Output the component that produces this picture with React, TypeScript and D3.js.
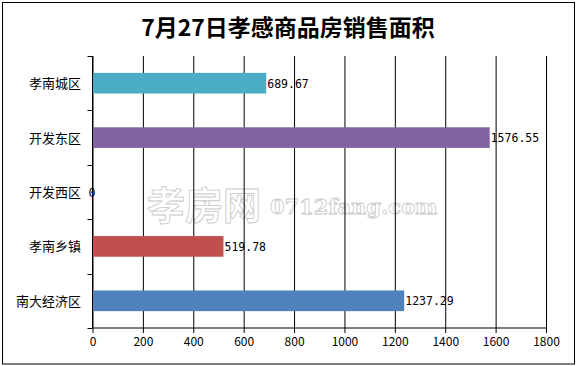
import { useEffect, useRef } from "react";
import * as d3 from "d3";

const categories = ["孝南城区", "开发东区", "开发西区", "孝南乡镇", "南大经济区"];
const values = [689.67, 1576.55, 0, 519.78, 1237.29];
const barColors = ["#4BACC6", "#8064A2", "#8064A2", "#C0504D", "#4F81BD"];
const xTicks = [0, 200, 400, 600, 800, 1000, 1200, 1400, 1600, 1800];
const title = "7月27日孝感商品房销售面积";

const W = 576;
const H = 366;
const FONT = "'Noto Sans CJK SC', 'DejaVu Sans', sans-serif";

const App = () => {
  const svgRef = useRef<SVGSVGElement | null>(null);

  useEffect(() => {
    if (!svgRef.current) return;
    const svg = d3.select(svgRef.current);
    svg.selectAll("*").remove();

    const margin = { top: 56, right: 30, bottom: 38, left: 92.5 };

    // Outer frame
    svg
      .append("rect")
      .attr("x", 2.5)
      .attr("y", 2.5)
      .attr("width", 572)
      .attr("height", 361.5)
      .attr("fill", "#fff")
      .attr("stroke", "#000")
      .attr("stroke-width", 1);

    // Title
    svg
      .append("text")
      .attr("x", 288)
      .attr("y", 36)
      .attr("text-anchor", "middle")
      .style("font-family", "'Noto Sans CJK SC', serif")
      .style("font-weight", "bold")
      .style("font-size", "23px")
      .attr("fill", "#000")
      .text(title);

    const x = d3.scaleLinear().domain([0, 1800]).range([margin.left, 546]);
    const y = d3
      .scaleBand<string>()
      .domain(categories)
      .range([margin.top, H - margin.bottom])
      .paddingInner(0.62)
      .paddingOuter(0.31);

    const plotTop = margin.top;
    const plotBottom = H - margin.bottom;

    // Watermark (outlined text)
    const wm = svg.append("g").attr("fill", "#fff").attr("stroke", "#c8c8c8").attr("stroke-width", 0.8);
    wm.append("text")
      .attr("x", 147)
      .attr("y", 219)
      .style("font-family", FONT)
      .style("font-size", "38px")
      .style("font-weight", "bold")
      .text("孝房网");
    wm.append("text")
      .attr("x", 270)
      .attr("y", 214)
      .style("font-family", "'DejaVu Serif', serif")
      .style("font-size", "21px")
      .style("font-weight", "bold")
      .text("0712fang.com");

    // Vertical gridlines
    svg
      .append("g")
      .attr("transform", `translate(0,${plotBottom})`)
      .call(
        d3
          .axisBottom(x)
          .tickValues(xTicks)
          .tickSize(-(plotBottom - plotTop))
          .tickFormat(() => "")
      )
      .call((g) => g.select(".domain").remove())
      .attr("color", "#000");

    // Bars
    svg
      .append("g")
      .selectAll("rect")
      .data(categories)
      .join("rect")
      .attr("x", x(0))
      .attr("y", (d) => y(d)!)
      .attr("width", (_, i) => x(values[i]) - x(0))
      .attr("height", y.bandwidth())
      .attr("fill", (_, i) => barColors[i]);

    // Value labels
    svg
      .append("g")
      .selectAll("text")
      .data(categories)
      .join("text")
      .attr("x", (_, i) => (values[i] === 0 ? x(0) - 4 : x(values[i]) + 1))
      .attr("y", (d) => y(d)! + y.bandwidth() / 2 + 4.5)
      .style("font-family", "'DejaVu Sans Mono', monospace")
      .style("font-size", "11.5px")
      .attr("fill", "#000")
      .text((_, i) => String(values[i]));

    // Bottom axis
    svg
      .append("g")
      .attr("transform", `translate(0,${plotBottom})`)
      .call(d3.axisBottom(x).tickValues(xTicks).tickSize(5).tickPadding(4).tickFormat(d3.format("d")))
      .attr("color", "#000")
      .call((g) => g.select(".domain").attr("d", `M${x(0)},0H${x(1800)}`))
      .selectAll("text")
      .style("font-family", FONT)
      .style("font-size", "12px")
      .attr("fill", "#000");

    // Left axis
    const left = svg.append("g").attr("color", "#000");
    left
      .append("line")
      .attr("x1", margin.left)
      .attr("x2", margin.left)
      .attr("y1", plotTop)
      .attr("y2", plotBottom)
      .attr("stroke", "#000");
    const step = y.step();
    const boundaries = d3.range(categories.length + 1).map((i) => plotTop + i * step);
    left
      .selectAll("line.tick")
      .data(boundaries)
      .join("line")
      .attr("class", "tick")
      .attr("x1", margin.left - 5)
      .attr("x2", margin.left)
      .attr("y1", (d) => Math.round(d) + 0.5)
      .attr("y2", (d) => Math.round(d) + 0.5)
      .attr("stroke", "#000");
    left
      .selectAll("text")
      .data(categories)
      .join("text")
      .attr("x", 81)
      .attr("y", (d) => y(d)! + y.bandwidth() / 2 + 5)
      .attr("text-anchor", "end")
      .style("font-family", FONT)
      .style("font-size", "13px")
      .attr("fill", "#000")
      .text((d) => d);
  }, []);

  return (
    <svg
      ref={svgRef}
      width={W}
      height={H}
      style={{ position: "absolute", left: 0, top: 0, display: "block", background: "#fff" }}
    />
  );
};

export default App;
